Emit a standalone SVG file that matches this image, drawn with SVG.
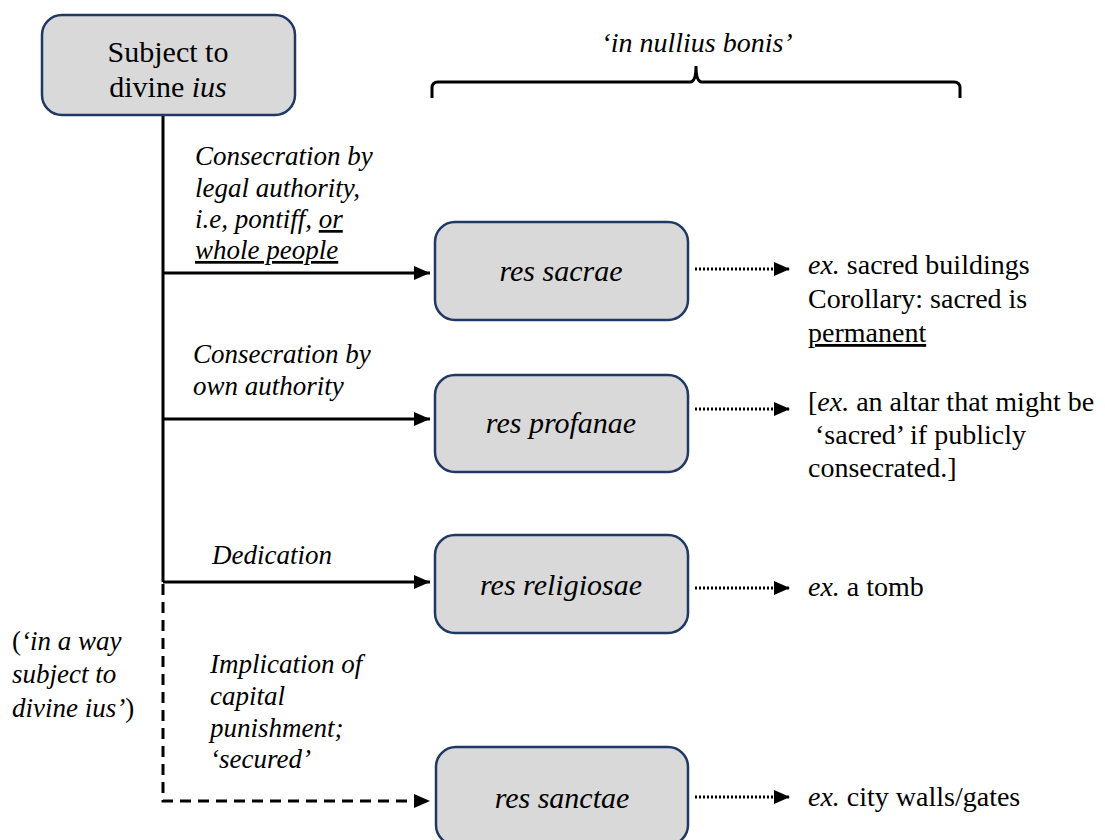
<svg xmlns="http://www.w3.org/2000/svg" width="1105" height="840" viewBox="0 0 1105 840">
  <defs>
    <marker id="ah" markerUnits="userSpaceOnUse" markerWidth="16" markerHeight="14" refX="16" refY="7" orient="auto">
      <path d="M0,0 L16,7 L0,14 z" fill="#000"/>
    </marker>
  </defs>
  <rect width="1105" height="840" fill="#fff"/>

  <g id="connectors" fill="none" stroke="#000" stroke-width="3">
    <path d="M163,115 V582"/>
    <path d="M163,273 H430" marker-end="url(#ah)"/>
    <path d="M163,419 H430" marker-end="url(#ah)"/>
    <path d="M163,582 H430" marker-end="url(#ah)"/>
    <path d="M163,584 V801 H430" stroke-dasharray="11 7" marker-end="url(#ah)"/>
    <g stroke-dasharray="2 2">
      <path d="M695,269 H790" marker-end="url(#ah)"/>
      <path d="M695,409 H790" marker-end="url(#ah)"/>
      <path d="M695,588 H790" marker-end="url(#ah)"/>
      <path d="M695,797 H790" marker-end="url(#ah)"/>
    </g>
  </g>

  <g id="brace">
    <path d="M432,98 V88 Q432,82 438,82 H690 Q696,82 696,66 Q696,82 702,82 H954 Q960,82 960,88 V98" fill="none" stroke="#000" stroke-width="3"/>
    <text font-family="Liberation Serif" x="697" y="52" font-size="28" font-style="italic" text-anchor="middle">‘in nullius bonis’</text>
  </g>

  <g fill="#d9d9d9" stroke="#1f3864" stroke-width="2.5">
    <g id="node-divine">
      <rect x="42" y="15" width="253" height="100" rx="20"/>
      <text font-family="Liberation Serif" fill="#000" stroke="none" x="168" y="62" font-size="30" text-anchor="middle">Subject to</text>
      <text font-family="Liberation Serif" fill="#000" stroke="none" x="168" y="97" font-size="30" text-anchor="middle">divine <tspan font-style="italic">ius</tspan></text>
    </g>
    <g id="node-sacrae">
      <rect x="435" y="222" width="253" height="98" rx="20"/>
      <text font-family="Liberation Serif" fill="#000" stroke="none" font-size="30" font-style="italic" text-anchor="middle" x="561" y="281">res sacrae</text>
    </g>
    <g id="node-profanae">
      <rect x="435" y="375" width="253" height="97" rx="20"/>
      <text font-family="Liberation Serif" fill="#000" stroke="none" font-size="30" font-style="italic" text-anchor="middle" x="561" y="433">res profanae</text>
    </g>
    <g id="node-religiosae">
      <rect x="435" y="535" width="253" height="98" rx="20"/>
      <text font-family="Liberation Serif" fill="#000" stroke="none" font-size="30" font-style="italic" text-anchor="middle" x="561" y="595">res religiosae</text>
    </g>
    <g id="node-sanctae">
      <rect x="436" y="747" width="252" height="98" rx="20"/>
      <text font-family="Liberation Serif" fill="#000" stroke="none" font-size="30" font-style="italic" text-anchor="middle" x="562" y="808">res sanctae</text>
    </g>
  </g>

  <g id="edge-labels" font-family="Liberation Serif" font-size="27" font-style="italic" fill="#000">
    <text font-family="Liberation Serif" x="195" y="165">Consecration by</text>
    <text font-family="Liberation Serif" x="195" y="197">legal authority,</text>
    <text font-family="Liberation Serif" x="195" y="228">i.e, pontiff, <tspan text-decoration="underline">or</tspan></text>
    <text font-family="Liberation Serif" x="195" y="259" text-decoration="underline">whole people</text>

    <text font-family="Liberation Serif" x="193" y="363">Consecration by</text>
    <text font-family="Liberation Serif" x="193" y="395">own authority</text>

    <text font-family="Liberation Serif" x="212" y="564">Dedication</text>

    <text font-family="Liberation Serif" x="210" y="673">Implication of</text>
    <text font-family="Liberation Serif" x="210" y="705">capital</text>
    <text font-family="Liberation Serif" x="210" y="737">punishment;</text>
    <text font-family="Liberation Serif" x="210" y="768">‘secured’</text>

    <text font-family="Liberation Serif" x="12" y="650"><tspan font-style="normal">(</tspan>‘in a way</text>
    <text font-family="Liberation Serif" x="12" y="683">subject to</text>
    <text font-family="Liberation Serif" x="12" y="717">divine ius’<tspan font-style="normal">)</tspan></text>
  </g>

  <g id="notes" font-family="Liberation Serif" font-size="28" fill="#000">
    <text font-family="Liberation Serif" x="808" y="274"><tspan font-style="italic">ex.</tspan> sacred buildings</text>
    <text font-family="Liberation Serif" x="808" y="308">Corollary: sacred is</text>
    <text font-family="Liberation Serif" x="808" y="342" text-decoration="underline">permanent</text>

    <text font-family="Liberation Serif" x="808" y="411">[<tspan font-style="italic">ex.</tspan> an altar that might be</text>
    <text font-family="Liberation Serif" x="815" y="444">‘sacred’ if publicly</text>
    <text font-family="Liberation Serif" x="808" y="477">consecrated.]</text>

    <text font-family="Liberation Serif" x="808" y="596"><tspan font-style="italic">ex.</tspan> a tomb</text>
    <text font-family="Liberation Serif" x="808" y="806"><tspan font-style="italic">ex.</tspan> city walls/gates</text>
  </g>
</svg>
